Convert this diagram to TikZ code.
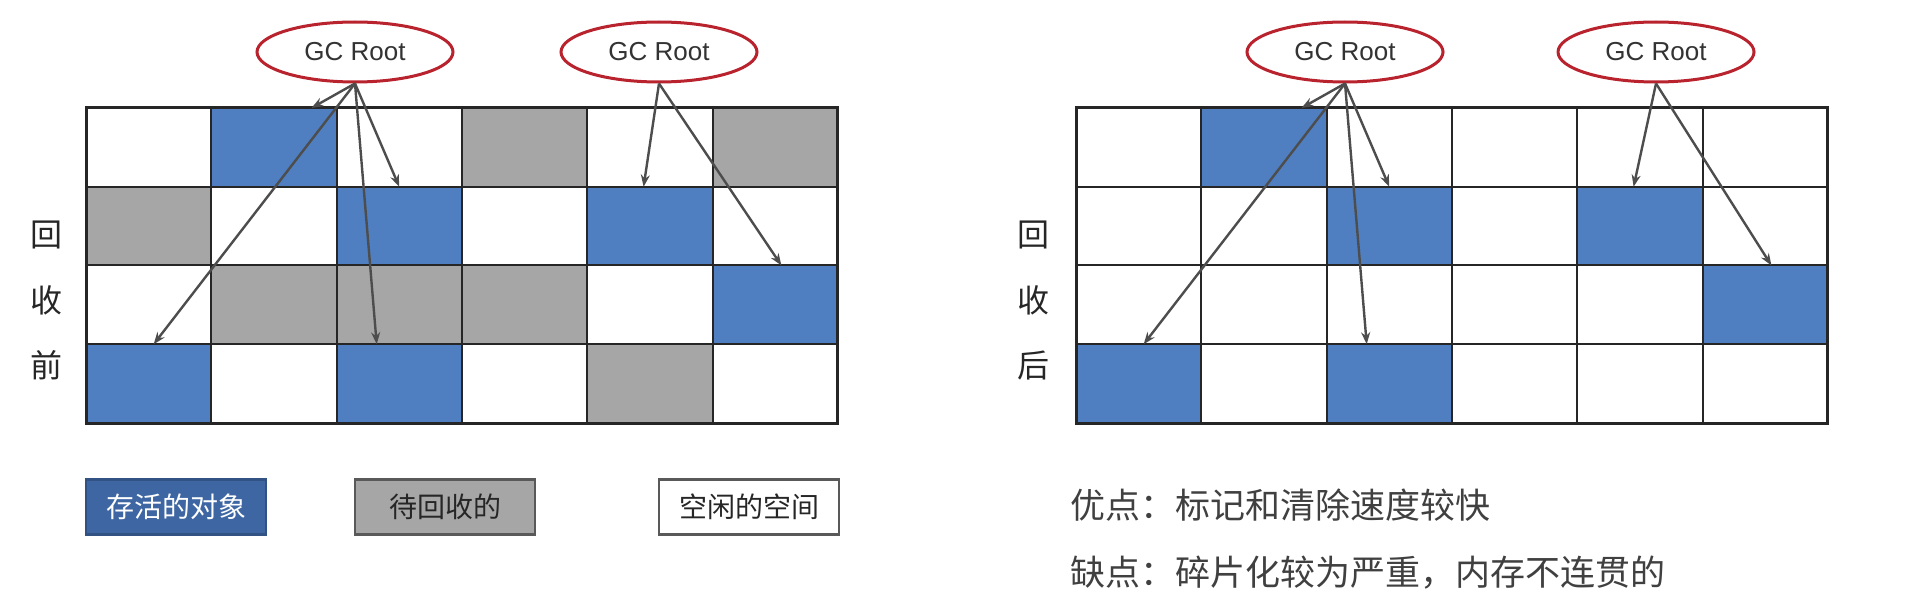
\documentclass[tikz,border=0pt]{standalone}
\usepackage{fontspec}
\setmainfont{Liberation Sans}
\newfontfamily\cjk{Noto Sans CJK SC}
\usetikzlibrary{shapes.geometric,arrows.meta,calc,positioning}
\definecolor{cb}{HTML}{4F7FC0}
\definecolor{cg}{HTML}{A6A6A6}
\definecolor{cw}{HTML}{FFFFFF}
\definecolor{rootred}{HTML}{B8232E}
\definecolor{arrowgray}{HTML}{4D4D4D}
\definecolor{legendblue}{HTML}{3D66A3}

\begin{document}
\begin{tikzpicture}[
		x=0.5pt, y=-0.5pt,
		every node/.style={font=\cjk},
		cell/.style={rectangle, draw=black!85, line width=1pt, minimum width=62.65pt, minimum height=39.4pt, inner sep=0pt, outer sep=0pt},
		root/.style={ellipse, draw=rootred, line width=1.5pt, fill=white, minimum width=98pt, minimum height=30pt, inner sep=0pt, font=\fontsize{13}{15}\selectfont, text=black!80},
		arrow/.style={-{Stealth[length=6pt,width=4.5pt]}, draw=arrowgray, line width=1.2pt},
		key/.style={rectangle, line width=1.2pt, minimum width=90pt, minimum height=27.5pt, font=\cjk\fontsize{14}{16}\selectfont},
		side/.style={font=\cjk\fontsize{16}{18}\selectfont, text=black!85},
		note/.style={anchor=west, inner sep=0pt, font=\cjk\fontsize{17.5}{20}\selectfont, text=black!75}
	]
	\useasboundingbox (0,0) rectangle (1910,599);

	% Heap before collection
	\foreach \r/\cells in {1/{w,b,w,g,w,g},2/{g,w,b,w,b,w},3/{w,g,g,g,w,b},4/{b,w,b,w,g,w}}
		\foreach \k [count=\col] in \cells
			\node[cell, fill=c\k] (A-\r-\col) at ({86+(\col-0.5)*125.3},{108+(\r-0.5)*78.75}) {};
	\draw[line width=1.5pt, black!85] (A-1-1.north west) rectangle (A-4-6.south east);

	% Heap after collection
	\foreach \r/\cells in {1/{w,b,w,w,w,w},2/{w,w,b,w,b,w},3/{w,w,w,w,w,b},4/{b,w,b,w,w,w}}
		\foreach \k [count=\col] in \cells
			\node[cell, fill=c\k] (B-\r-\col) at ({1076+(\col-0.5)*125.3},{108+(\r-0.5)*78.75}) {};
	\draw[line width=1.5pt, black!85] (B-1-1.north west) rectangle (B-4-6.south east);

	% Roots
	\node[root] (rootA1) at (355,52) {GC Root};
	\node[root] (rootA2) at (659,52) {GC Root};
	\node[root] (rootB1) at (1345,52) {GC Root};
	\node[root] (rootB2) at (1656,52) {GC Root};

	% Side labels
	\foreach \t [count=\i] in {回,收,前}
		\node[side] (before-\i) at (46,{170+65*\i}) {\t};
	\foreach \t [count=\i] in {回,收,后}
		\node[side] (after-\i) at (1033,{170+65*\i}) {\t};

	% Arrows
	\foreach \g in {A,B} {
		\draw[arrow] (root\g1.south) -- ($(\g-1-2.north west)!0.8!(\g-1-2.north east)$);
		\draw[arrow] (root\g1.south) -- (\g-2-3.north);
		\draw[arrow] (root\g1.south) -- ($(\g-4-1.north west)!0.54!(\g-4-1.north east)$);
		\draw[arrow] (root\g1.south) -- ($(\g-4-3.north west)!0.32!(\g-4-3.north east)$);
		\draw[arrow] (root\g2.south) -- ($(\g-2-5.north west)!0.45!(\g-2-5.north east)$);
		\draw[arrow] (root\g2.south) -- ($(\g-3-6.north west)!0.55!(\g-3-6.north east)$);
	}

	% Legend
	\node[key, fill=legendblue, draw=legendblue!80!black, text=white] (alive) at (176,507) {存活的对象};
	\node[key, fill=cg, draw=black!65, text=black!85] (garbage) at (445,507) {待回收的};
	\node[key, fill=white, draw=black!65, text=black!85] (free) at (749,507) {空闲的空间};

	% Notes
	\node[note] (pro) at (1070,505) {优点：标记和清除速度较快};
	\node[note] (con) at (1070,573) {缺点：碎片化较为严重，内存不连贯的};

\end{tikzpicture}
\end{document}
